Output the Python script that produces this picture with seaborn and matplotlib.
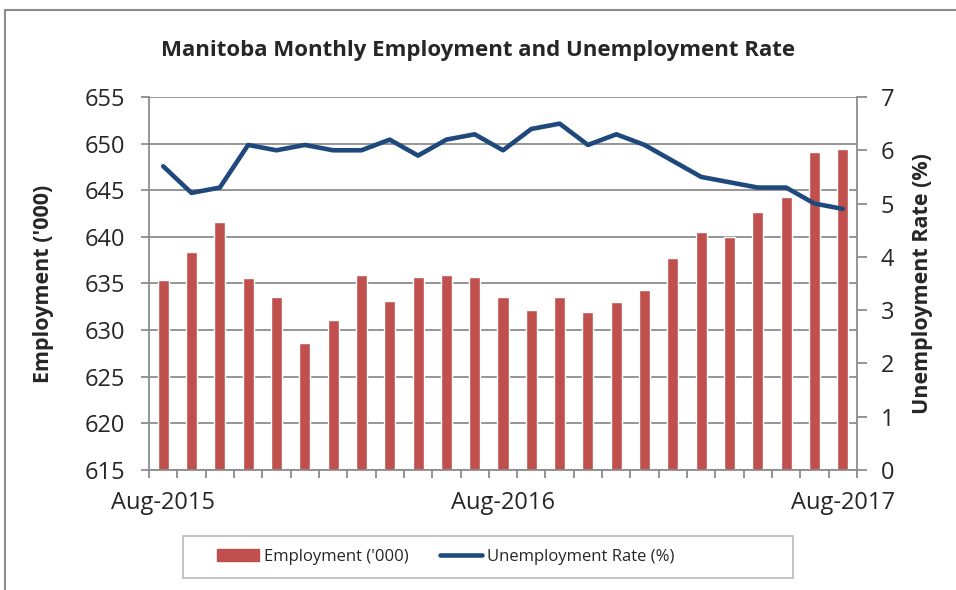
import pandas as pd
import matplotlib.pyplot as plt
import seaborn as sns
from matplotlib.patches import Rectangle
from matplotlib.lines import Line2D
from matplotlib.ticker import MultipleLocator, FixedLocator

# --- Data ---
months = pd.date_range('2015-08-01', '2017-08-01', freq='MS').strftime('%b-%Y').tolist()
employment = [635.4, 638.4, 641.6, 635.6, 633.6, 628.6, 631.1, 635.9, 633.1, 635.7,
              635.9, 635.7, 633.6, 632.2, 633.5, 631.9, 633.0, 634.3, 637.7, 640.5,
              640.0, 642.7, 644.3, 649.1, 649.4]
unemp_rate = [5.7, 5.2, 5.3, 6.1, 6.0, 6.1, 6.0, 6.0, 6.2, 5.9, 6.2, 6.3, 6.0,
              6.4, 6.5, 6.1, 6.3, 6.1, 5.8, 5.5, 5.4, 5.3, 5.3, 5.0, 4.9]
shown_labels = ['Aug-2015', 'Aug-2016', 'Aug-2017']

df = pd.DataFrame({'Month': months, 'Employment': employment, 'Rate': unemp_rate})
df['pos'] = range(len(df))

bar_color = '#C0504D'
line_color = '#1F497D'
grid_color = '#8C8C8C'

sns.set_style('white')
plt.rcParams['font.family'] = ['Open Sans', 'DejaVu Sans']

fig = plt.figure(figsize=(9.56, 5.9), dpi=100)
ax = fig.add_axes([0.1559, 0.2034, 0.7405, 0.6322])

# --- Bars: employment ---
sns.barplot(x='pos', y='Employment', data=df, order=list(range(len(df))),
            color=bar_color, saturation=1, width=0.39, ax=ax, native_scale=True)
ax.set_ylim(615, 655)
ax.yaxis.set_major_locator(MultipleLocator(5))
ax.set_xlim(-0.5, len(df) - 0.5)
ax.grid(axis='y', color=grid_color, linewidth=1.3)
ax.set_axisbelow(True)

# x ticks: labels at category centers, small tick marks at category boundaries
label_pos = [months.index(m) for m in shown_labels]
ax.xaxis.set_major_locator(FixedLocator(label_pos))
ax.set_xticklabels(shown_labels, fontsize=17)
ax.xaxis.set_minor_locator(FixedLocator([i - 0.5 for i in range(len(df) + 1)]))
ax.tick_params(axis='x', which='major', length=0, pad=15)
ax.tick_params(axis='x', which='minor', length=6, width=1.3, color=grid_color, direction='out', bottom=True)
ax.tick_params(axis='y', length=6, width=1.3, color=grid_color, direction='out', left=True, labelsize=17, pad=11)
ax.set_xlabel('')
ax.set_ylabel("Employment ('000)", fontsize=15.5, fontweight='bold', labelpad=22)

for side in ['top', 'right']:
    ax.spines[side].set_visible(False)
for side in ['left', 'bottom']:
    ax.spines[side].set_color(grid_color)
    ax.spines[side].set_linewidth(1.3)

# --- Line: unemployment rate on right axis ---
ax2 = ax.twinx()
sns.lineplot(x='pos', y='Rate', data=df, color=line_color, linewidth=3.3,
             ax=ax2, solid_capstyle='round', solid_joinstyle='round')
ax2.set_ylim(0, 7)
ax2.yaxis.set_major_locator(MultipleLocator(1))
ax2.set_xlim(-0.5, len(df) - 0.5)
ax2.tick_params(axis='y', length=7, width=1.3, color=grid_color, direction='out', right=True, labelsize=17, pad=10)
ax2.set_ylabel('Unemployment Rate (%)', fontsize=15.5, fontweight='bold', labelpad=13)
for side in ['top', 'left', 'bottom']:
    ax2.spines[side].set_visible(False)
ax2.spines['right'].set_color(grid_color)
ax2.spines['right'].set_linewidth(1.3)

fig.suptitle('Manitoba Monthly Employment and Unemployment Rate', x=0.5, y=0.933,
             fontsize=16, fontweight='bold')

# --- Legend below the plot ---
handles = [Rectangle((0, 0), 1, 1, color=bar_color),
           Line2D([0], [0], color=line_color, linewidth=3.3, solid_capstyle='round')]
leg = fig.legend(handles, ["Employment ('000)", 'Unemployment Rate (%)'],
                 loc='center left', bbox_to_anchor=(209 / 956, 1 - 557 / 590), ncol=2,
                 fontsize=12, frameon=False, handlelength=2.5, handleheight=0.7,
                 columnspacing=1.9, borderpad=0, handletextpad=0.3)
fig.patches.append(Rectangle((183 / 956, 1 - 578 / 590), 610 / 956, 42 / 590,
                             transform=fig.transFigure, fill=False,
                             edgecolor='#BFBFBF', linewidth=1.3))

# outer chart border
fig.patches.append(Rectangle((5 / 956, -0.01), 1.0, 1 - 10 / 590 + 0.01,
                             transform=fig.transFigure, fill=False,
                             edgecolor=grid_color, linewidth=1.5))

plt.savefig('out.png', dpi=100)
plt.close()
